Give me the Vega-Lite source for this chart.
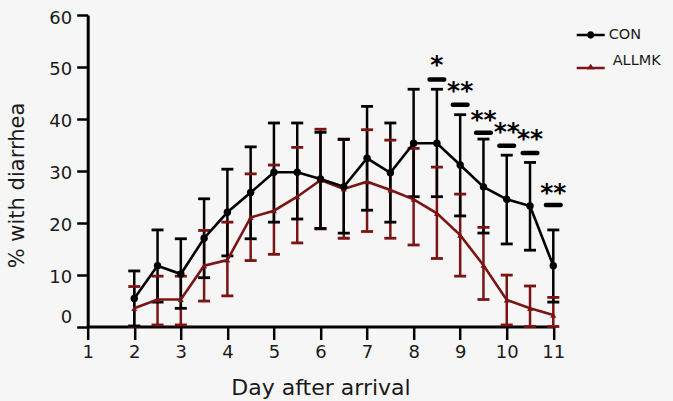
{
  "$schema": "https://vega.github.io/schema/vega-lite/v6.json",
  "autosize": {"type": "none"},
  "width": 465.6,
  "height": 311.5,
  "padding": {"left": 87.7, "top": 15, "right": 119.7, "bottom": 74.5},
  "background": "#f6f6f6",
  "config": {
    "view": {"stroke": null},
    "font": "DejaVu Sans",
    "tick": {"opacity": 1},
    "axis": {"grid": false, "domainColor": "#000000", "tickColor": "#000000", "labelColor": "#1a1a1a", "titleColor": "#1a1a1a", "labelFont": "DejaVu Sans", "titleFont": "DejaVu Sans", "titleFontWeight": "normal"}
  },
  "datasets": {
    "series": [
      {"day": 2, "series": "ALLMK", "mean": 3.5, "lo": 0, "hi": 7.7},
      {"day": 2.5, "series": "ALLMK", "mean": 5.2, "lo": 0.3, "hi": 9.7},
      {"day": 3, "series": "ALLMK", "mean": 5.2, "lo": 0.3, "hi": 9.7},
      {"day": 3.5, "series": "ALLMK", "mean": 11.7, "lo": 4.9, "hi": 18.5},
      {"day": 4, "series": "ALLMK", "mean": 12.8, "lo": 5.9, "hi": 20.1},
      {"day": 4.5, "series": "ALLMK", "mean": 21.0, "lo": 12.7, "hi": 29.4},
      {"day": 5, "series": "ALLMK", "mean": 22.3, "lo": 13.9, "hi": 31.1},
      {"day": 5.5, "series": "ALLMK", "mean": 25.0, "lo": 16.1, "hi": 34.5},
      {"day": 6, "series": "ALLMK", "mean": 28.2, "lo": 18.8, "hi": 38.0},
      {"day": 6.5, "series": "ALLMK", "mean": 26.5, "lo": 17.0, "hi": 36.0},
      {"day": 7, "series": "ALLMK", "mean": 27.9, "lo": 18.3, "hi": 37.9},
      {"day": 7.5, "series": "ALLMK", "mean": 26.3, "lo": 17.0, "hi": 35.9},
      {"day": 8, "series": "ALLMK", "mean": 24.5, "lo": 15.7, "hi": 34.3},
      {"day": 8.5, "series": "ALLMK", "mean": 21.8, "lo": 13.1, "hi": 30.7},
      {"day": 9, "series": "ALLMK", "mean": 17.6, "lo": 9.7, "hi": 25.5},
      {"day": 9.5, "series": "ALLMK", "mean": 11.8, "lo": 5.2, "hi": 19.1},
      {"day": 10, "series": "ALLMK", "mean": 5.1, "lo": 0.3, "hi": 9.9},
      {"day": 10.5, "series": "ALLMK", "mean": 3.5, "lo": 0, "hi": 7.8},
      {"day": 11, "series": "ALLMK", "mean": 2.2, "lo": 0, "hi": 5.6},
      {"day": 2, "series": "CON", "mean": 5.4, "lo": 0.1, "hi": 10.7},
      {"day": 2.5, "series": "CON", "mean": 11.7, "lo": 4.7, "hi": 18.6},
      {"day": 3, "series": "CON", "mean": 10.1, "lo": 3.5, "hi": 16.9},
      {"day": 3.5, "series": "CON", "mean": 17.0, "lo": 9.4, "hi": 24.6},
      {"day": 4, "series": "CON", "mean": 22.0, "lo": 13.6, "hi": 30.3},
      {"day": 4.5, "series": "CON", "mean": 25.8, "lo": 16.9, "hi": 34.6},
      {"day": 5, "series": "CON", "mean": 29.7, "lo": 20.1, "hi": 39.2},
      {"day": 5.5, "series": "CON", "mean": 29.7, "lo": 20.7, "hi": 39.2},
      {"day": 6, "series": "CON", "mean": 28.4, "lo": 18.9, "hi": 37.4},
      {"day": 6.5, "series": "CON", "mean": 26.9, "lo": 18.0, "hi": 36.1},
      {"day": 7, "series": "CON", "mean": 32.4, "lo": 22.4, "hi": 42.4},
      {"day": 7.5, "series": "CON", "mean": 29.6, "lo": 20.1, "hi": 39.2},
      {"day": 8, "series": "CON", "mean": 35.3, "lo": 25.0, "hi": 45.7},
      {"day": 8.5, "series": "CON", "mean": 35.3, "lo": 25.0, "hi": 45.7},
      {"day": 9, "series": "CON", "mean": 31.1, "lo": 21.3, "hi": 40.8},
      {"day": 9.5, "series": "CON", "mean": 26.9, "lo": 18.0, "hi": 36.1},
      {"day": 10, "series": "CON", "mean": 24.5, "lo": 15.9, "hi": 33.0},
      {"day": 10.5, "series": "CON", "mean": 23.2, "lo": 14.7, "hi": 31.6},
      {"day": 11, "series": "CON", "mean": 11.7, "lo": 4.7, "hi": 18.6}
    ],
    "sig": [
      {"day": 8.5, "bar": 47.6, "star": 51.5, "label": "*"},
      {"day": 9, "bar": 42.7, "star": 46.5, "label": "**"},
      {"day": 9.5, "bar": 37.3, "star": 41.0, "label": "**"},
      {"day": 10, "bar": 34.8, "star": 38.6, "label": "**"},
      {"day": 10.5, "bar": 33.4, "star": 37.3, "label": "**"},
      {"day": 11, "bar": 23.4, "star": 26.9, "label": "**"}
    ]
  },
  "layer": [
    {
      "data": {"name": "series"},
      "mark": {"type": "rule", "strokeWidth": 2.5},
      "encoding": {
        "x": {"field": "day", "type": "quantitative", "scale": {"domain": [1, 11], "nice": false, "zero": false},
          "axis": {"values": [1,2,3,4,5,6,7,8,9,10,11], "title": "Day after arrival", "titleFontSize": 22, "titleY": 68, "titleBaseline": "alphabetic", "labelFontSize": 18, "labelPadding": 4, "tickSize": 13, "tickWidth": 2.5, "domainWidth": 3, "labelFlush": false}},
        "y": {"field": "lo", "type": "quantitative", "scale": {"domain": [0, 60], "nice": false},
          "axis": {"values": [0,10,20,30,40,50,60], "title": "% with diarrhea", "titleFontSize": 21, "titleX": -70, "titleY": 170, "titleAlign": "center", "titleBaseline": "middle", "labelFontSize": 18, "labelPadding": 5, "tickSize": 11, "tickWidth": 2.5, "domainWidth": 3,
            "labelOffset": {"condition": {"test": "datum.value === 0", "value": -9}, "value": 3}}},
        "y2": {"field": "hi"},
        "color": {"field": "series", "type": "nominal", "scale": {"domain": ["CON", "ALLMK"], "range": ["#000000", "#7B1414"]},
          "legend": {"title": null, "orient": "none", "legendX": 489, "legendY": 6, "labelFontSize": 14.5, "labelFont": "DejaVu Sans", "labelColor": "#1a1a1a", "labelOffset": 4, "rowPadding": 11, "symbolSize": 784, "symbolOpacity": 1, "symbolStrokeWidth": 0,
            "encode": {
              "labels": {"update": {
                "dy": {"signal": "datum.value === 'ALLMK' ? -7 : 0"},
                "dx": {"signal": "datum.value === 'ALLMK' ? 4 : 0"}
              }}
            }}}
      }
    },
    {
      "data": {"name": "series"},
      "transform": [{"filter": "false"}],
      "mark": {"type": "point", "filled": true, "opacity": 1},
      "encoding": {
        "x": {"field": "day", "type": "quantitative"},
        "y": {"field": "mean", "type": "quantitative"},
        "color": {"field": "series", "type": "nominal"},
        "shape": {"field": "series", "type": "nominal", "scale": {"domain": ["CON", "ALLMK"], "range": [
          "M-1,-0.09L1,-0.09L1,0.09L-1,0.09ZM-0.26,0A0.26,0.26,0,1,1,0.26,0A0.26,0.26,0,1,1,-0.26,0Z",
          "M-1,-0.09L1,-0.09L1,0.09L-1,0.09ZM0,-0.3L0.28,0.1L-0.28,0.1Z"]}}
      }
    },
    {
      "data": {"name": "series"},
      "mark": {"type": "tick", "orient": "horizontal", "size": 12, "thickness": 2.8, "opacity": 1},
      "encoding": {
        "x": {"field": "day", "type": "quantitative"},
        "y": {"field": "lo", "type": "quantitative"},
        "color": {"field": "series", "type": "nominal"}
      }
    },
    {
      "data": {"name": "series"},
      "mark": {"type": "tick", "orient": "horizontal", "size": 12, "thickness": 2.8, "opacity": 1},
      "encoding": {
        "x": {"field": "day", "type": "quantitative"},
        "y": {"field": "hi", "type": "quantitative"},
        "color": {"field": "series", "type": "nominal"}
      }
    },
    {
      "data": {"name": "series"},
      "mark": {"type": "line", "strokeWidth": 2.6},
      "encoding": {
        "x": {"field": "day", "type": "quantitative"},
        "y": {"field": "mean", "type": "quantitative"},
        "color": {"field": "series", "type": "nominal"}
      }
    },
    {
      "data": {"name": "series"},
      "transform": [{"filter": "datum.series === 'ALLMK'"}],
      "mark": {"type": "point", "filled": true, "opacity": 1, "shape": "triangle-up", "size": 35, "color": "#7B1414"},
      "encoding": {
        "x": {"field": "day", "type": "quantitative"},
        "y": {"field": "mean", "type": "quantitative"}
      }
    },
    {
      "data": {"name": "series"},
      "transform": [{"filter": "datum.series === 'CON'"}],
      "mark": {"type": "point", "filled": true, "opacity": 1, "shape": "circle", "size": 55, "color": "#000000"},
      "encoding": {
        "x": {"field": "day", "type": "quantitative"},
        "y": {"field": "mean", "type": "quantitative"}
      }
    },
    {
      "data": {"name": "sig"},
      "mark": {"type": "tick", "orient": "horizontal", "size": 19, "thickness": 4.5, "color": "#000000", "opacity": 1, "cornerRadius": 2},
      "encoding": {
        "x": {"field": "day", "type": "quantitative"},
        "y": {"field": "bar", "type": "quantitative"}
      }
    },
    {
      "data": {"name": "sig"},
      "mark": {"type": "text", "font": "DejaVu Sans", "fontWeight": "bold", "fontSize": 25, "color": "#000000", "baseline": "middle", "align": "center", "dy": 6},
      "encoding": {
        "x": {"field": "day", "type": "quantitative"},
        "y": {"field": "star", "type": "quantitative"},
        "text": {"field": "label"}
      }
    }
  ]
}
